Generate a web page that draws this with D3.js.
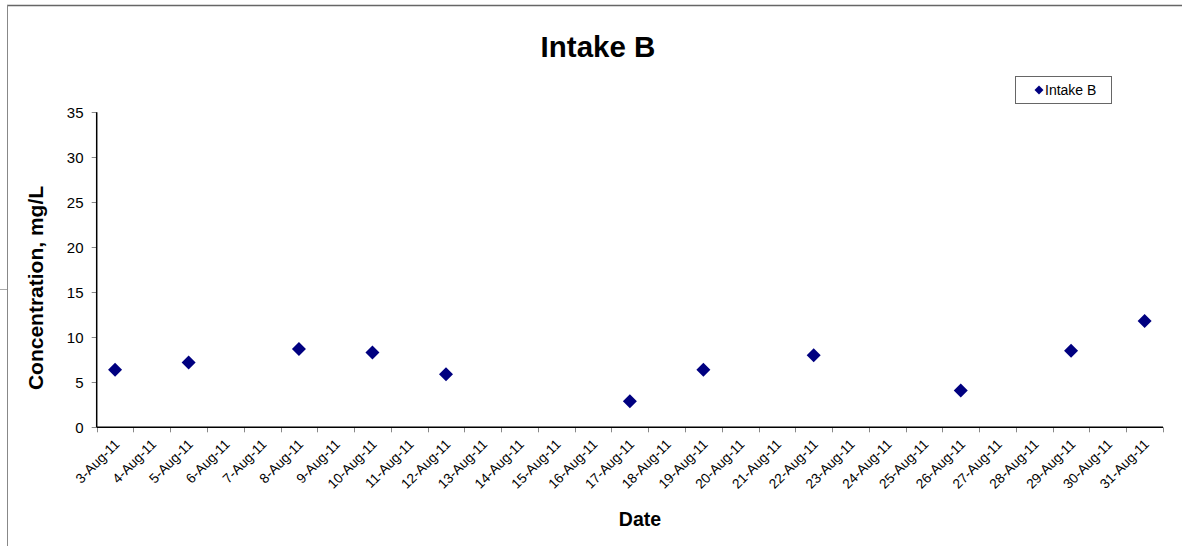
<!DOCTYPE html>
<html>
<head>
<meta charset="utf-8">
<script src="https://cdn.jsdelivr.net/npm/d3@7"></script>
<style>
  html, body { margin: 0; padding: 0; background: #fff; }
  svg { display: block; font-family: Arial, "Liberation Sans", sans-serif; }
</style>
</head>
<body>
<svg id="chart" width="1182" height="546"></svg>
<script>
const categories = ["3-Aug-11","4-Aug-11","5-Aug-11","6-Aug-11","7-Aug-11","8-Aug-11","9-Aug-11","10-Aug-11","11-Aug-11","12-Aug-11","13-Aug-11","14-Aug-11","15-Aug-11","16-Aug-11","17-Aug-11","18-Aug-11","19-Aug-11","20-Aug-11","21-Aug-11","22-Aug-11","23-Aug-11","24-Aug-11","25-Aug-11","26-Aug-11","27-Aug-11","28-Aug-11","29-Aug-11","30-Aug-11","31-Aug-11"];
const sampleDates = ["3-Aug-11","5-Aug-11","8-Aug-11","10-Aug-11","12-Aug-11","17-Aug-11","19-Aug-11","22-Aug-11","26-Aug-11","29-Aug-11","31-Aug-11"];
const intakeB = [6.4, 7.2, 8.7, 8.3, 5.9, 2.9, 6.4, 8.0, 4.1, 8.5, 11.8];
const yTicks = [0, 5, 10, 15, 20, 25, 30, 35];
const seriesName = "Intake B";
const chartTitle = "Intake B";
const xTitle = "Date";
const yTitle = "Concentration, mg/L";

(function () {
const svg = d3.select("#chart");
const pLeft = 96.7, pRight = 1163, pTop = 112.3, pBottom = 427.3;

const x = d3.scaleBand().domain(categories).range([pLeft, pRight]).padding(0);
const y = d3.scaleLinear().domain([0, 35]).range([pBottom, pTop]);

// outer frame remnants
svg.append("line").attr("x1", 7).attr("x2", 1182).attr("y1", 5.5).attr("y2", 5.5)
  .attr("stroke", "#666").attr("stroke-width", 1.5);
svg.append("line").attr("x1", 7.5).attr("x2", 7.5).attr("y1", 5).attr("y2", 546)
  .attr("stroke", "#888").attr("stroke-width", 1);
svg.append("line").attr("x1", 0).attr("x2", 7).attr("y1", 289.5).attr("y2", 289.5)
  .attr("stroke", "#aaa").attr("stroke-width", 1);

// title
svg.append("text").attr("x", 598).attr("y", 57).attr("text-anchor", "middle")
  .attr("font-size", 29.5).attr("font-weight", "bold").text(chartTitle);

// y axis
const gy = svg.append("g");
gy.selectAll("line.tick").data(yTicks).join("line")
  .attr("x1", pLeft - 5).attr("x2", pLeft)
  .attr("y1", d => Math.round(y(d)) + 0.5).attr("y2", d => Math.round(y(d)) + 0.5)
  .attr("stroke", "#888").attr("stroke-width", 1);
gy.selectAll("text").data(yTicks).join("text")
  .attr("x", 83.5).attr("y", d => y(d)).attr("dy", "0.36em")
  .attr("text-anchor", "end").attr("font-size", 15).text(d => d);
gy.append("line").attr("x1", pLeft).attr("x2", pLeft).attr("y1", pTop).attr("y2", pBottom)
  .attr("stroke", "#000").attr("stroke-width", 1.5);

// x axis
const gx = svg.append("g");
const boundaries = categories.map(c => x(c)).concat([x(categories[categories.length - 1]) + x.bandwidth()]);
gx.selectAll("line.tick").data(boundaries).join("line")
  .attr("x1", d => Math.round(d) + 0.5).attr("x2", d => Math.round(d) + 0.5)
  .attr("y1", pBottom).attr("y2", pBottom + 5)
  .attr("stroke", "#888").attr("stroke-width", 1);
gx.append("line").attr("x1", pLeft).attr("x2", pRight).attr("y1", pBottom).attr("y2", pBottom)
  .attr("stroke", "#000").attr("stroke-width", 1.5);
gx.selectAll("text").data(categories).join("text")
  .attr("transform", d => `translate(${x(d) + x.bandwidth() / 2 - 1.5},${pBottom + 11}) rotate(-45)`)
  .attr("text-anchor", "end").attr("dy", "0.7em")
  .attr("font-size", 13.7).text(d => d);

// axis titles
svg.append("text").attr("x", 640).attr("y", 525.5).attr("text-anchor", "middle")
  .attr("font-size", 19.5).attr("font-weight", "bold").text(xTitle);
svg.append("text").attr("transform", "translate(42.5,288) rotate(-90)")
  .attr("text-anchor", "middle").attr("font-size", 21).attr("font-weight", "bold").text(yTitle);

// points
const sym = d3.symbol().type(d3.symbolSquare).size(98);
svg.append("g").selectAll("path").data(sampleDates.map((d, i) => ({ d, v: intakeB[i] }))).join("path")
  .attr("d", sym)
  .attr("transform", p => `translate(${x(p.d) + x.bandwidth() / 2},${y(p.v)}) rotate(45)`)
  .attr("fill", "#000080");

// legend
const lg = svg.append("g");
lg.append("rect").attr("x", 1015.5).attr("y", 76.5).attr("width", 96).attr("height", 27)
  .attr("fill", "#fff").attr("stroke", "#666").attr("stroke-width", 1);
lg.append("path").attr("d", d3.symbol().type(d3.symbolSquare).size(40)())
  .attr("transform", "translate(1039,90) rotate(45)").attr("fill", "#000080");
lg.append("text").attr("x", 1045).attr("y", 90).attr("dy", "0.36em")
  .attr("font-size", 14).text(seriesName);
})();
</script>
</body>
</html>
